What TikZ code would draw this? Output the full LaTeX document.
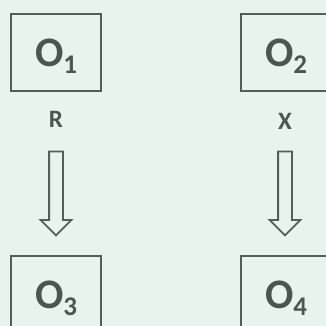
\documentclass[tikz,border=0pt]{standalone}
\usepackage{fontspec}
\setmainfont{Carlito}[BoldFont={Carlito Bold}]
\usetikzlibrary{shapes.arrows}
\definecolor{bg}{HTML}{E8F3EE}
\definecolor{frame}{HTML}{545E59}
\definecolor{ink}{HTML}{4A5751}
% observation symbol O with a lowered index
\newcommand{\obs}[1]{{\bfseries\fontsize{42}{42}\selectfont O\raisebox{-7pt}[0pt][0pt]{\fontsize{27}{27}\selectfont #1}}}
\begin{document}
\begin{tikzpicture}[x=1pt,y=-1pt,
  obox/.style={draw=frame, line width=2.2pt, minimum width=90pt, minimum height=77pt,
    inner sep=0pt, anchor=north west, text=ink},
  tlabel/.style={text=ink, font=\bfseries\fontsize{25}{25}\selectfont, inner sep=0pt},
  blockarrow/.style={single arrow, draw=frame, line width=1.8pt, rotate=-90,
    minimum height=84pt, inner xsep=0pt, inner ysep=6pt,
    single arrow head extend=8.5pt, single arrow tip angle=90}]
  \fill[bg] (0,0) rectangle (326,326);
  \useasboundingbox (0,0) rectangle (326,326);
  \clip (0,0) rectangle (326,326);

  % observation boxes
  \node[obox] (o1) at (10,13) {\obs{1}};
  \node[obox] (o2) at (240,13) {\obs{2}};
  \node[obox] (o3) at (10,255) {\obs{3}};
  \node[obox] (o4) at (240,255) {\obs{4}};

  % treatment labels
  \node[tlabel] (r) at (56,119) {R};
  \node[tlabel] (x) at (285,121) {X};

  % hollow block arrows
  \node[blockarrow] (a1) at (56,190) {};
  \node[blockarrow] (a2) at (285,190) {};
\end{tikzpicture}
\end{document}
